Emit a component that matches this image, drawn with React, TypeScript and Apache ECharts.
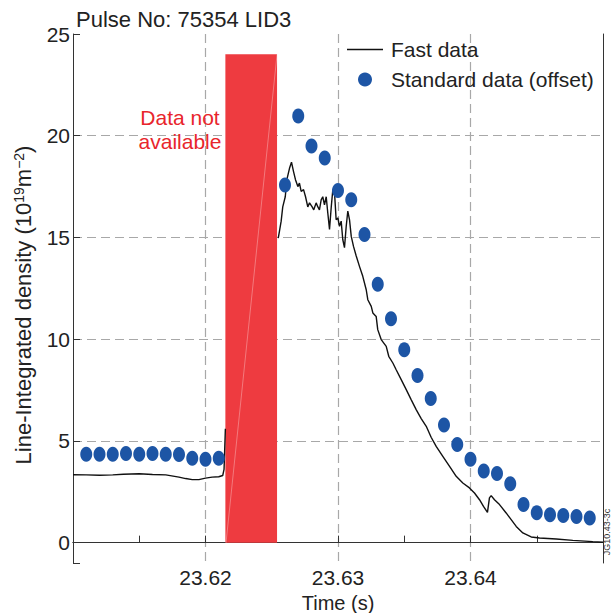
import React, { useEffect, useRef } from "react";
import * as echarts from "echarts";

// ---- data ----
const stdTimes = [
  23.611, 23.612, 23.613, 23.614, 23.615, 23.616, 23.617, 23.618, 23.619, 23.62, 23.621,
  23.626, 23.627, 23.628, 23.629, 23.63, 23.631, 23.632, 23.633, 23.634, 23.635, 23.636,
  23.637, 23.638, 23.639, 23.64, 23.641, 23.642, 23.643, 23.644, 23.645, 23.646, 23.647,
  23.648, 23.649,
];
const stdValues = [
  4.35, 4.35, 4.35, 4.38, 4.35, 4.38, 4.35, 4.33, 4.15, 4.1, 4.15,
  17.58, 20.97, 19.5, 18.9, 17.31, 16.85, 15.15, 12.7, 11.0, 9.48, 8.22,
  7.08, 5.78, 4.83, 4.1, 3.52, 3.4, 2.9, 1.87, 1.47, 1.37, 1.33,
  1.28, 1.21,
];

const fastTimesBefore = [
  23.61, 23.611, 23.612, 23.613, 23.6138, 23.615, 23.616, 23.617, 23.618, 23.6185,
  23.619, 23.6195, 23.62, 23.6205, 23.621, 23.6213, 23.6214, 23.6215,
];
const fastValuesBefore = [
  3.34, 3.33, 3.31, 3.33, 3.36, 3.39, 3.35, 3.33, 3.22, 3.15,
  3.1, 3.1, 3.17, 3.22, 3.24, 3.3, 3.6, 5.6,
];

const fastTimesAfter = [
  23.62549, 23.62558, 23.62571, 23.62583, 23.62602, 23.62614, 23.62634, 23.62649, 23.62664,
  23.62679, 23.62697, 23.62709, 23.62722, 23.6274, 23.62755, 23.62772, 23.62785, 23.62805,
  23.62817, 23.62835, 23.62848, 23.6286, 23.62873, 23.62885, 23.62898, 23.62911, 23.62923,
  23.62936, 23.62949, 23.62961, 23.62974, 23.62986, 23.62999, 23.63011, 23.63024, 23.63036,
  23.63049, 23.63062, 23.63074, 23.63087, 23.631, 23.63117, 23.63137, 23.63162, 23.63187,
  23.63213, 23.63225, 23.63251, 23.63263, 23.63288, 23.633, 23.63326, 23.63364, 23.63383,
  23.63414, 23.63439, 23.63477, 23.63515, 23.63552, 23.6359, 23.63628, 23.63666, 23.63703,
  23.63741, 23.63791, 23.63842, 23.63892, 23.63942, 23.63992, 23.6403, 23.64068, 23.64098,
  23.64128, 23.64143, 23.64156, 23.64181, 23.64219, 23.64269, 23.64307, 23.64345, 23.64395,
  23.64458, 23.64521, 23.64647, 23.64772, 23.64923, 23.65,
];
const fastValuesAfter = [
  14.97, 15.3, 15.8, 16.5, 17.0, 17.84, 18.4, 18.7, 18.25,
  17.84, 17.5, 17.67, 17.26, 17.35, 17.0, 16.5, 16.7, 16.5,
  16.36, 16.7, 16.5, 16.36, 16.85, 17.0, 16.6, 17.0, 16.2,
  15.4, 16.5, 17.35, 17.18, 15.87, 15.96, 15.55, 15.8, 14.9,
  14.5, 15.55, 16.3, 15.87, 15.05, 14.56, 14.1, 13.58, 13.09,
  12.43, 11.94, 11.61, 11.29, 11.12, 10.47, 9.98, 9.65, 9.16,
  8.83, 8.5, 8.01, 7.52, 7.03, 6.54, 6.1, 5.72, 5.18,
  4.73, 4.24, 3.75, 3.26, 2.93, 2.69, 2.44, 2.11, 1.78,
  1.49, 2.2, 2.31, 2.11, 1.87, 1.46, 1.13, 0.8, 0.48,
  0.28, 0.23, 0.18, 0.11, 0.05, 0.02,
];

// region where data are not available
const gapTimes = [23.6215, 23.6254];
const gapLevels = [0, 24];

const xLabelValues = [23.62, 23.63, 23.64];
const yLabelValues = [0, 5, 10, 15, 20, 25];

const FONT = "'Liberation Sans', Arial, Helvetica, sans-serif";
const TXT = "#222";
const AX = "#333";
const GRID = { color: "#a8a8a8", type: [9, 5] as any, width: 1.2 };

export default function App() {
  const ref = useRef<HTMLDivElement>(null);

  useEffect(() => {
    document.body.style.margin = "0";
    if (!ref.current) return;
    const chart = echarts.init(ref.current, undefined, { renderer: "svg" });

    const fastData: any[] = fastTimesBefore.map((t, i) => [t, fastValuesBefore[i]]);
    fastData.push([(gapTimes[0] + gapTimes[1]) / 2, null]);
    fastTimesAfter.forEach((t, i) => fastData.push([t, fastValuesAfter[i]]));

    const option: any = {
      animation: false,
      textStyle: { fontFamily: FONT },
      title: {
        text: "Pulse No: 75354 LID3",
        left: 76,
        top: 8,
        padding: 0,
        textStyle: { fontFamily: FONT, fontSize: 22, fontWeight: "normal", color: TXT },
      },
      legend: {
        orient: "vertical",
        left: 347,
        top: 39,
        padding: 0,
        itemWidth: 36,
        itemHeight: 14,
        itemGap: 9,
        data: [
          { name: "Fast data", icon: "path://M0,0H36V1.4H0Z" },
          { name: "Standard data (offset)" },
        ],
        textStyle: { fontFamily: FONT, fontSize: 21, color: TXT, lineHeight: 20, padding: [0, 0, 0, 3] },
      },
      grid: { left: 73, right: 8, top: 34, bottom: 50, outerBoundsMode: "none" },
      xAxis: [
        {
          type: "value",
          min: 23.61,
          max: 23.65,
          interval: 0.005,
          position: "bottom",
          axisLine: { show: true, lineStyle: { color: AX, width: 1 } },
          axisTick: { show: true, inside: true, length: 7, lineStyle: { color: AX } },
          axisLabel: {
            fontFamily: FONT,
            fontSize: 21,
            color: TXT,
            margin: 4,
            showMinLabel: false,
            showMaxLabel: false,
            formatter: (v: number) =>
              xLabelValues.some((l) => Math.abs(l - v) < 1e-6) ? v.toFixed(2) : "",
          },
          splitLine: { show: false },
          name: "Time (s)",
          nameLocation: "middle",
          nameGap: 21,
          nameTextStyle: { fontFamily: FONT, fontSize: 20, color: TXT },
        },
        {
          type: "value",
          min: 23.61,
          max: 23.65,
          interval: 0.01,
          position: "top",
          axisLine: { show: true, lineStyle: { color: AX, width: 1 } },
          axisTick: { show: false },
          axisLabel: { show: false },
          splitLine: { show: true, showMinLine: false, showMaxLine: false, lineStyle: GRID },
        },
      ],
      yAxis: [
        {
          type: "value",
          min: -1,
          max: 25,
          minInterval: 5,
          maxInterval: 5,
          axisLine: { show: true, lineStyle: { color: AX, width: 1 } },
          axisTick: { show: true, inside: true, length: 7, lineStyle: { color: AX } },
          axisLabel: {
            fontFamily: FONT,
            fontSize: 21,
            color: TXT,
            margin: 3,
            formatter: (v: number) =>
              yLabelValues.some((l) => Math.abs(l - v) < 1e-9) ? String(Math.round(v)) : "",
          },
          splitLine: { show: true, showMinLine: false, showMaxLine: false, lineStyle: GRID },
          name: "Line-Integrated density (10{sup|19}m{sup|\u22122})",
          nameLocation: "middle",
          nameGap: 36,
          nameTextStyle: {
            fontFamily: FONT,
            fontSize: 22,
            color: TXT,
            lineHeight: 24,
            padding: [0, 13, 0, 0],
            rich: {
              sup: { fontFamily: FONT, fontSize: 14, color: TXT, lineHeight: 14, verticalAlign: "top" },
            },
          },
        },
        {
          type: "value",
          min: -1,
          max: 25,
          position: "right",
          axisLine: { show: true, lineStyle: { color: AX, width: 1 } },
          axisTick: { show: false },
          axisLabel: { show: false },
          splitLine: { show: false },
        },
      ],
      graphic: [
        {
          type: "text",
          x: 180,
          y: 129,
          z: 10,
          style: {
            text: "Data not\navailable",
            fill: "#e8252c",
            fontSize: 21,
            fontFamily: FONT,
            align: "center",
            verticalAlign: "middle",
            lineHeight: 24,
          },
        },
        {
          type: "text",
          x: 606.5,
          y: 532,
          rotation: Math.PI / 2,
          style: {
            text: "JG10.43-3c",
            fill: "#333",
            fontSize: 9,
            fontFamily: FONT,
            align: "center",
            verticalAlign: "middle",
          },
        },
      ],
      series: [
        {
          name: "gap",
          type: "custom",
          xAxisIndex: 0,
          yAxisIndex: 0,
          encode: { x: [0, 1], y: [2, 3] },
          data: [[gapTimes[0], gapTimes[1], gapLevels[0], gapLevels[1]]],
          renderItem: (params: any, api: any) => {
            const p0 = api.coord([api.value(0), api.value(3)]);
            const p1 = api.coord([api.value(1), api.value(2)]);
            return {
              type: "rect",
              shape: { x: p0[0], y: p0[1], width: p1[0] - p0[0], height: p1[1] - p0[1] },
              style: { fill: "#ee3b40" },
            };
          },
          silent: true,
        },
        {
          name: "gapTrace",
          type: "line",
          xAxisIndex: 0,
          yAxisIndex: 0,
          symbol: "none",
          data: [
            [gapTimes[0] + 0.00005, gapLevels[0]],
            [gapTimes[1], gapLevels[1]],
          ],
          lineStyle: { color: "rgba(255,255,255,0.4)", width: 0.8 },
          silent: true,
        },
        {
          name: "Fast data",
          type: "line",
          xAxisIndex: 0,
          yAxisIndex: 0,
          symbol: "none",
          showSymbol: false,
          connectNulls: false,
          data: fastData,
          lineStyle: { color: "#111", width: 1.4 },
          itemStyle: { color: "#111" },
        },
        {
          name: "Standard data (offset)",
          type: "scatter",
          xAxisIndex: 0,
          yAxisIndex: 0,
          symbol: "circle",
          symbolSize: [12, 15],
          data: stdTimes.map((t, i) => [t, stdValues[i]]),
          itemStyle: { color: "#1d55a5", opacity: 1 },
          z: 5,
        },
      ],
    };

    chart.setOption(option);
    return () => chart.dispose();
  }, []);

  return <div ref={ref} style={{ width: 611, height: 613 }} />;
}
